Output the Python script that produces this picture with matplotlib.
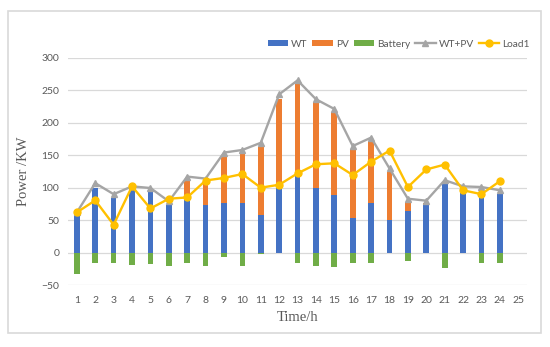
import matplotlib
matplotlib.use('Agg')
import matplotlib.pyplot as plt
from matplotlib.patches import Rectangle
import numpy as np

# hourly values
hours = list(range(1, 25))
wt = [59, 100, 84, 98, 93, 74, 82, 74, 77, 76, 58, 100, 118, 99, 89, 53, 77, 51, 64, 74, 106, 93, 86, 90]
pv = [0, 0, 0, 0, 0, 0, 29, 37, 71, 76, 105, 137, 141, 132, 128, 107, 95, 73, 14, 3, 0, 0, 0, 0]
battery = [-33, -16, -16, -19.5, -17.5, -21, -16, -21, -7, -20.5, -2, -1, -15.5, -20, -21.5, -15.5, -15.5, -1, -13, -1, -23, -1, -15.5, -15.5]
wt_pv = [62, 107, 90, 102, 99.5, 79, 117, 114, 154, 158, 169, 243.5, 265, 236, 221, 164, 177, 129.5, 83, 80, 111.5, 102, 101, 96]
load1 = [62, 80.5, 43, 102, 68, 83, 85, 111, 115, 121, 100, 104.5, 122, 136, 137.5, 119.5, 140, 157, 101, 128, 135.5, 96, 90, 110]
xticks = list(range(1, 26))
yticks = [-50, 0, 50, 100, 150, 200, 250, 300]

txt = '#595959'
tick_font = ['Lato', 'DejaVu Sans']
label_font = ['Liberation Serif', 'DejaVu Serif']

fig = plt.figure(figsize=(5.5, 3.47), dpi=100)
ax = fig.add_axes([0.123, 0.178, 0.836, 0.656])

# light border round the chart area
fig.patches.append(Rectangle((0.0145, 0.0403), 0.969, 0.928, transform=fig.transFigure,
                             fill=False, edgecolor='#D9D9D9', linewidth=1.2))

w = 0.31
b1 = ax.bar(hours, wt, width=w, color='#4472C4', label='WT', zorder=2)
b2 = ax.bar(hours, pv, width=w, bottom=wt, color='#ED7D31', label='PV', zorder=2)
b3 = ax.bar(hours, battery, width=w, color='#70AD47', label='Battery', zorder=2)
l1, = ax.plot(hours, wt_pv, color='#A5A5A5', lw=1.7, marker='^', ms=5, label='WT+PV', zorder=3)
l2, = ax.plot(hours, load1, color='#FFC000', lw=1.7, marker='o', ms=5, label='Load1', zorder=4)

ax.set_xlim(0.5, 25.5)
ax.set_ylim(-50, 300)
ax.set_xticks(xticks)
ax.set_yticks(yticks)
ax.grid(axis='y', color='#D9D9D9', lw=0.9, zorder=0)
ax.set_axisbelow(True)
for s in ax.spines.values():
    s.set_visible(False)
ax.tick_params(length=0, labelsize=7.5, labelcolor=txt)
ax.tick_params(axis='x', pad=8)
ax.tick_params(axis='y', pad=6)
for t in ax.get_xticklabels() + ax.get_yticklabels():
    t.set_family(tick_font)

ax.set_xlabel('Time/h', family=label_font, fontsize=10.5, color=txt, labelpad=4)
ax.set_ylabel('Power /KW', family=label_font, fontsize=10.5, color=txt, labelpad=8)

fig.legend([b1, b2, b3, l1, l2], ['WT', 'PV', 'Battery', 'WT+PV', 'Load1'],
           loc='center', bbox_to_anchor=(0.725, 0.873), ncol=5, frameon=False,
           prop={'family': tick_font, 'size': 7.3}, labelcolor=txt,
           handlelength=2.0, handleheight=0.6, handletextpad=0.3, columnspacing=0.5)

plt.savefig('out.png', dpi=100)
